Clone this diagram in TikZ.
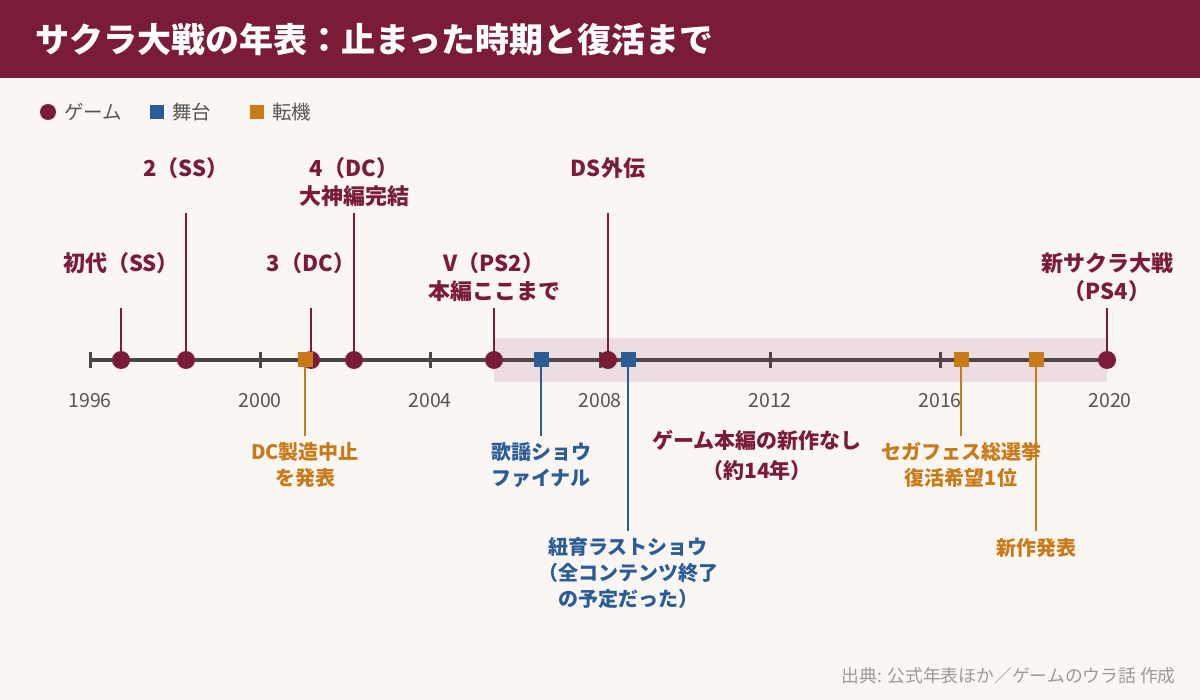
\documentclass[tikz,border=0pt]{standalone}
\usepackage{fontspec}
\setmainfont{Noto Sans CJK JP}
\usetikzlibrary{positioning}

\definecolor{bordeaux}{HTML}{7A1C35}
\definecolor{bleu}{HTML}{2B5C96}
\definecolor{ocre}{HTML}{C97B1A}
\definecolor{fond}{HTML}{FAF6F3}
\definecolor{bande}{HTML}{EBDDE2}
\definecolor{axe}{HTML}{4D4548}
\definecolor{gris}{HTML}{555555}
\definecolor{grisclair}{HTML}{9A9A9A}

\begin{document}
\begin{tikzpicture}[x=1pt, y=-1pt]
	\tikzset{rond/.style={circle, fill=bordeaux, minimum size=18pt, inner sep=0pt},
	carre/.style={rectangle, minimum size=15pt, inner sep=0pt},
	tige/.style={line width=2pt},
	etiq/.style={font=\bfseries\fontsize{22}{28}\selectfont, align=center, inner sep=0pt},
	petit/.style={font=\bfseries\fontsize{20}{26}\selectfont, align=center, inner sep=0pt},
	legende/.style={font=\fontsize{19.5}{22}\selectfont, text=gris, inner sep=0pt}};

	% fond et titre
	\fill[fond] (0,0) rectangle (1200,700);
	\fill[bordeaux] (0,0) rectangle (1200,78);
	\node[anchor=west, text=white, inner sep=0pt, font=\bfseries\fontsize{34}{40}\selectfont] (titre) at (35,40) {サクラ大戦の年表：止まった時期と復活まで};

	% legende
	\node[rond, minimum size=16pt] (l-jeu) at (48,112) {};
	\node[legende, anchor=west, right=8pt of l-jeu] {ゲーム};
	\node[carre, fill=bleu, minimum size=14pt] (l-scene) at (157,112) {};
	\node[legende, anchor=west, right=8pt of l-scene] {舞台};
	\node[carre, fill=ocre, minimum size=14pt] (l-tour) at (257,112) {};
	\node[legende, anchor=west, right=8pt of l-tour] {転機};

	% periode sans jeu
	\fill[bande] (494,338) rectangle (1107,382);

	% axe
	\coordinate (debut) at (90,360);
	\coordinate (fin) at (1107,360);
	\draw[axe, line width=4pt] (debut) -- (fin);
	\foreach \an in {1996,2000,...,2020}{
		\pgfmathsetmacro\xa{90+(\an-1996)*42.5}
		\draw[axe, line width=3pt] (\xa,352) -- (\xa,368);
		\node[text=gris, font=\fontsize{19.5}{22}\selectfont] (a-\an) at (\xa,401) {\an};
	}

	\node[font=\bfseries\fontsize{21}{30}\selectfont, align=center, inner sep=0pt, text=bordeaux] (creux) at (757,455) {ゲーム本編の新作なし\\（約14年）};

	% jeux
	\foreach \name/\x/\top/\ty/\txt in {shodai/121/308/263/{初代（SS）}, deux/186/213/168/{2（SS）}, trois/311/308/263/{3（DC）}, quatre/354/213/182/{4（DC）\\大神編完結}, cinq/494/308/277/{V（PS2）\\本編ここまで}, ds/608/213/168/{DS外伝}, shin/1107/308/277/{新サクラ大戦\\（PS4）}}{
		\coordinate (h-\name) at (\x,\top);
		\node[rond] (j-\name) at (\x,360) {};
		\draw[tige, bordeaux] (h-\name) -- (j-\name.center);
		\node[etiq, text=bordeaux] (t-\name) at (\x,\ty) {\txt};
	}

	% scene et tournants
	\foreach \name/\x/\bas/\ty/\col/\txt in {kayo/541/436/465/bleu/{歌謡ショウ\\ファイナル}, nyuiku/628/531/573/bleu/{紐育ラストショウ\\（全コンテンツ終了\\の予定だった）}, dc/305/436/465/ocre/{DC製造中止\\を発表}, sega/961/436/465/ocre/{セガフェス総選挙\\復活希望1位}, happyo/1036/531/548/ocre/{新作発表}}{
		\coordinate (b-\name) at (\x,\bas);
		\draw[tige, \col] (\x,360) -- (b-\name);
		\node[carre, fill=\col] (c-\name) at (\x,360) {};
		\node[petit, text=\col] (t-\name) at (\x,\ty) {\txt};
	}

	\node[anchor=east, text=grisclair, inner sep=0pt, font=\fontsize{17.8}{20}\selectfont] (source) at (1176,676) {出典: 公式年表ほか／ゲームのウラ話 作成};
\end{tikzpicture}
\end{document}
